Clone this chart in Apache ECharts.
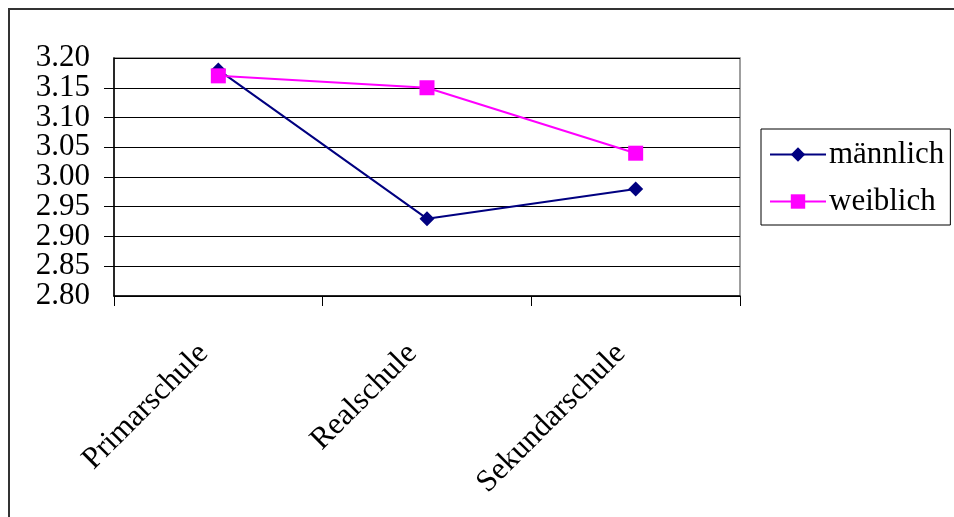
<!DOCTYPE html>
<html>
<head>
<meta charset="utf-8">
<style>
  html, body { margin: 0; padding: 0; background: #fff; }
  #chart { width: 954px; height: 517px; }
</style>
<script src="https://cdn.jsdelivr.net/npm/echarts@6/dist/echarts.min.js"></script>
</head>
<body>
<div id="chart"></div>
<script>
// School types on the category axis
const categories = ['Primarschule', 'Realschule', 'Sekundarschule'];
// Mean scores by gender
const maennlich = [3.18, 2.93, 2.98];
const weiblich = [3.17, 3.15, 3.04];
// Value axis range and step
const yMin = 2.80;
const yMax = 3.20;
const yStep = 0.05;

const serif = "'Liberation Serif', 'Times New Roman', serif";
const chart = echarts.init(document.getElementById('chart'), null, { renderer: 'canvas' });

const yLabelBase = {
  margin: 24, hideOverlap: false,
  fontFamily: serif, fontSize: 31, color: '#000'
};
const isEnd = v => Math.abs(v - yMin) < 1e-9 || Math.abs(v - yMax) < 1e-9;

chart.setOption({
  animation: false,
  backgroundColor: '#ffffff',
  graphic: [{
    type: 'rect',
    shape: { x: 9, y: 9, width: 1000, height: 600 },
    style: { fill: 'none', stroke: '#333333', lineWidth: 2 },
    silent: true,
    z: -1
  }],
  grid: {
    left: 114, top: 58, right: 214, bottom: 221,
    show: true, borderColor: '#808080', borderWidth: 1.5,
    containLabel: false,
    outerBoundsMode: 'none'
  },
  legend: {
    orient: 'vertical',
    left: 761, top: 129,
    padding: [10, 6, 8, 8],
    itemGap: 16,
    itemWidth: 56,
    itemHeight: 18,
    borderColor: '#000000',
    borderWidth: 1,
    textStyle: { fontFamily: serif, fontSize: 31, color: '#000', padding: [0, 0, 0, -2] },
    data: ['männlich', 'weiblich']
  },
  xAxis: {
    type: 'category',
    data: categories,
    boundaryGap: true,
    axisLine: { show: true, lineStyle: { color: '#000', width: 1.5 } },
    axisTick: { show: true, length: 10, lineStyle: { color: '#000', width: 1 } },
    axisLabel: {
      rotate: 45, margin: 38, interval: 0, hideOverlap: false,
      padding: [0, 21, 0, 0],
      fontFamily: serif, fontSize: 31, color: '#000'
    },
    splitLine: { show: false }
  },
  yAxis: [
    {
      // main value axis: line, ticks, grid lines and the inner labels
      type: 'value',
      position: 'left', offset: 0,
      min: yMin, max: yMax, interval: yStep,
      axisLine: { show: true, lineStyle: { color: '#000', width: 1.5 } },
      axisTick: { show: true, length: 10, lineStyle: { color: '#000', width: 1 } },
      axisLabel: Object.assign({}, yLabelBase, {
        showMinLabel: false, showMaxLabel: false,
        formatter: v => v.toFixed(2)
      }),
      splitLine: { show: true, lineStyle: { color: '#000', width: 1 } }
    },
    {
      // same scale, carrying only the end labels
      type: 'value',
      position: 'left', offset: 0,
      min: yMin, max: yMax, interval: yStep,
      axisLine: { show: false },
      axisTick: { show: false },
      splitLine: { show: false },
      axisLabel: Object.assign({}, yLabelBase, {
        showMinLabel: true, showMaxLabel: true,
        formatter: v => (isEnd(v) ? v.toFixed(2) : '')
      })
    }
  ],
  series: [
    {
      name: 'männlich',
      type: 'line',
      yAxisIndex: 0,
      data: maennlich,
      symbol: 'diamond',
      symbolSize: 15,
      itemStyle: { color: '#000080' },
      lineStyle: { color: '#000080', width: 2 },
      z: 3
    },
    {
      name: 'weiblich',
      type: 'line',
      yAxisIndex: 0,
      data: weiblich,
      symbol: 'rect',
      symbolSize: 15,
      itemStyle: { color: '#ff00ff' },
      lineStyle: { color: '#ff00ff', width: 2 },
      z: 4
    }
  ]
});
</script>
</body>
</html>
